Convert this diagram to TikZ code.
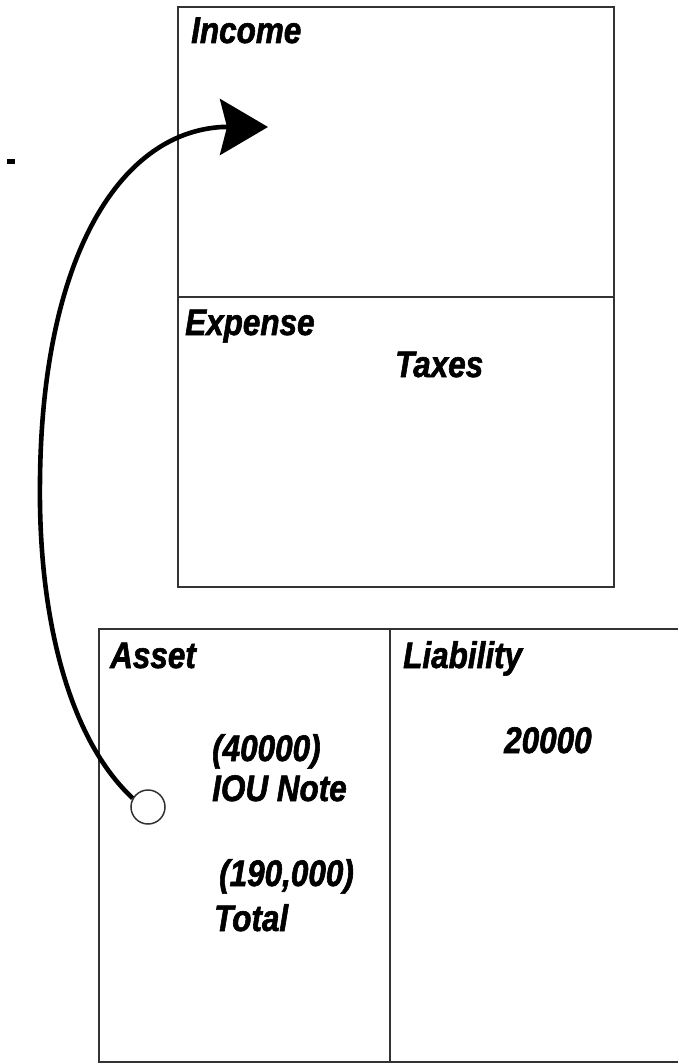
\documentclass[tikz,border=0pt]{standalone}
\usepackage{fontspec}
\newfontfamily\labfont{Liberation Sans}[FakeStretch=0.85,BoldItalicFeatures={FakeBold=1.6}]
\usetikzlibrary{arrows.meta}
\begin{document}
\begin{tikzpicture}[x=1pt,y=-1pt,
  frame/.style={draw=black!80,line width=1.8pt},
  lbl/.style={anchor=base west,inner sep=0pt,font=\labfont\bfseries\itshape\fontsize{37}{40}\selectfont},
  flow/.style={line width=4.6pt,-{Stealth[length=48pt,width=56pt,inset=7pt]}}]
\useasboundingbox (0,0) rectangle (678,1064);
% top box: Income / Expense
\draw[frame] (178,7) rectangle (614,587);
\draw[frame] (178,297) -- (614,297);
% bottom box: Asset / Liability
\draw[frame] (678,629) -- (99,629) -- (99,1062) -- (678,1062);
\draw[frame] (390,629) -- (390,1062);
% small dash at left
\fill[black] (7,159) rectangle (15,164);
% labels
\node[lbl] (income) at (191,43) {Income};
\node[lbl] (expense) at (185,335) {Expense};
\node[lbl] (taxes) at (395,377) {Taxes};
\node[lbl] (asset) at (110,668) {Asset};
\node[lbl] (liab) at (403,668) {Liability};
\node[lbl] (n40) at (212,761) {(40000)};
\node[lbl] (iou) at (212,801) {IOU Note};
\node[lbl] (n190) at (219,886) {(190,000)};
\node[lbl] (total) at (214,931) {Total};
\node[lbl] (n20) at (504,753) {20000};
% source circle and curved arrow
\node[circle,draw=black!80,line width=1.5pt,fill=white,minimum size=34pt,inner sep=0pt] (src) at (148,807) {};
\coordinate (tgt) at (268,127);
\draw[flow] (src.150) .. controls (70,740) and (38,620) .. (40,480)
  .. controls (42,260) and (118,133) .. (222,127) -- (tgt);
\end{tikzpicture}
\end{document}
